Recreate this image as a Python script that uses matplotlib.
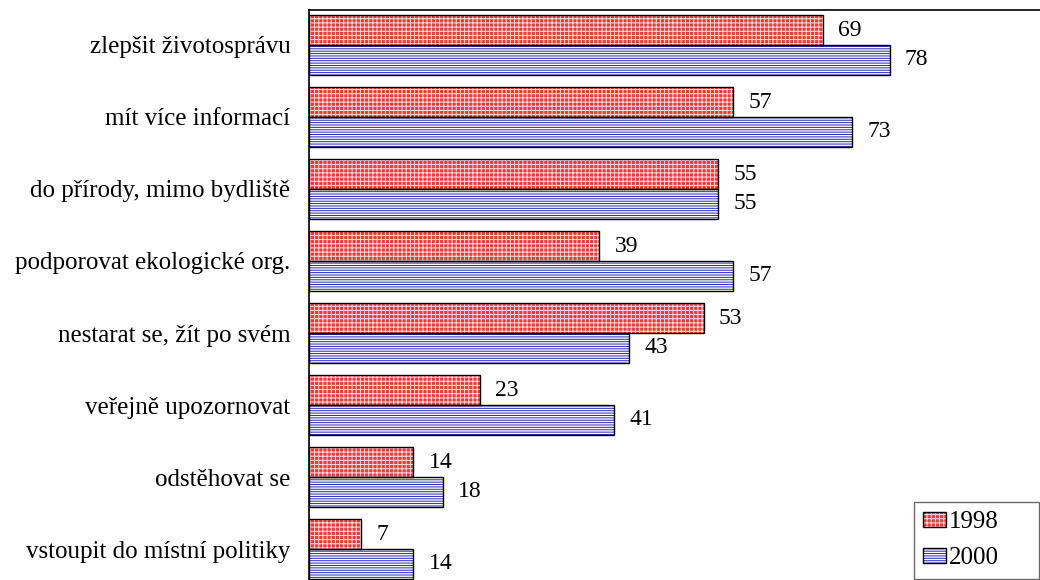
import numpy as np
import matplotlib
matplotlib.use("Agg")
import matplotlib.pyplot as plt
from matplotlib.patches import Patch
from matplotlib.legend_handler import HandlerTuple

plt.rcParams['font.family'] = ['Liberation Serif', 'DejaVu Serif']
plt.rcParams['hatch.linewidth'] = 0.7

categories = [
    "zlepšit životosprávu",
    "mít více informací",
    "do přírody, mimo bydliště",
    "podporovat ekologické org.",
    "nestarat se, žít po svém",
    "veřejně upozornovat",
    "odstěhovat se",
    "vstoupit do místní politiky",
]
series_names = ["1998", "2000"]
values_1998 = [69, 57, 55, 39, 53, 23, 14, 7]
values_2000 = [78, 73, 55, 57, 43, 41, 18, 14]

W, H = 1040, 580
fig = plt.figure(figsize=(W / 100, H / 100), dpi=100)
# axes: left spine at x=309, top at y=10, runs a bit past the bottom edge
ax = fig.add_axes([309 / W, -4 / H, (W - 309) / W, 574 / H])

y = np.arange(len(categories))
h = 0.41

styles = [
    dict(face='#F03A3A', hatch='++++', hcol='#FFE0E0'),
    dict(face='white', hatch='-------', hcol='#2626B8'),
]
handles = []
for k, (vals, st) in enumerate(zip([values_1998, values_2000], styles)):
    ypos = y - h / 2 if k == 0 else y + h / 2
    ax.barh(ypos, vals, height=h, color=st['face'], hatch=st['hatch'],
            edgecolor=st['hcol'], linewidth=0, zorder=2)
    ax.barh(ypos, vals, height=h, facecolor='none', edgecolor='black',
            linewidth=1.0, zorder=3)
    for yy, v in zip(ypos, vals):
        ax.annotate(str(v), (v, yy), xytext=(11, 0), textcoords='offset points',
                    ha='left', va='center', fontsize=17)
    p1 = Patch(facecolor=st['face'], hatch=st['hatch'], edgecolor=st['hcol'], linewidth=0)
    p2 = Patch(facecolor='none', edgecolor='black', linewidth=1.0)
    handles.append((p1, p2))

ax.set_xlim(0, 98.2)
ax.set_ylim(len(categories) - 1 + 0.486, -0.486)
ax.set_yticks(y)
ax.set_yticklabels(categories, fontsize=18)
ax.tick_params(axis='y', length=0, pad=13.5)
ax.set_xticks([])
for s in ['right', 'bottom']:
    ax.spines[s].set_visible(False)
ax.spines['top'].set_linewidth(1.2)
ax.spines['left'].set_linewidth(1.2)

leg = fig.legend(handles, series_names, handler_map={tuple: HandlerTuple(ndivide=1)},
                 loc='upper left', bbox_to_anchor=(914 / W, 2 / H, 125 / W, 76 / H),
                 mode='expand', borderaxespad=0, fancybox=False, frameon=True,
                 fontsize=18, handlelength=0.92, handleheight=0.56, handletextpad=0.12,
                 labelspacing=0.58, borderpad=0.36)
leg.get_frame().set_edgecolor('#444444')
leg.get_frame().set_linewidth(1.0)

fig.savefig("out.png", dpi=100)
